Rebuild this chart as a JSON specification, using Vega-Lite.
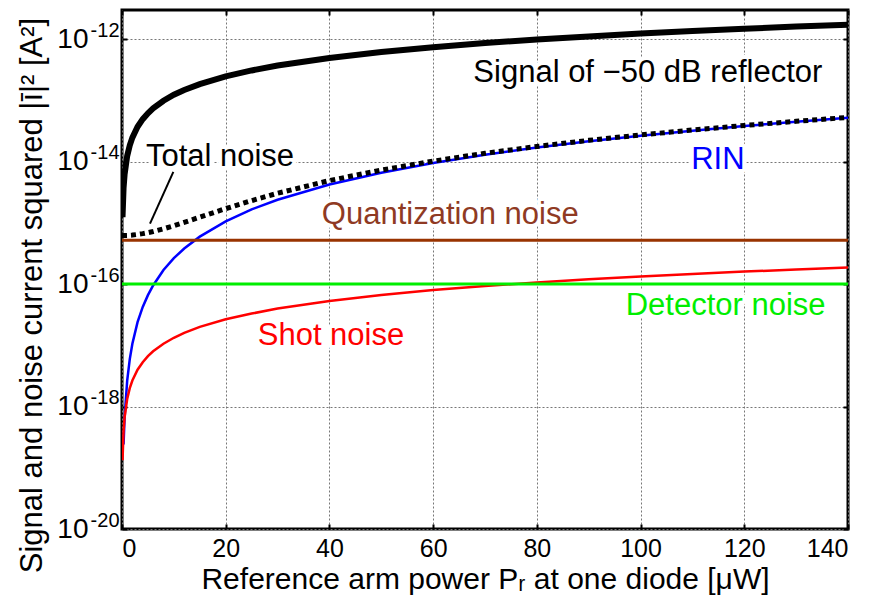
{
  "$schema": "https://vega.github.io/schema/vega-lite/v6.json",
  "width": 726,
  "height": 519,
  "autosize": {"type": "none"},
  "padding": {"left": 122, "top": 10, "right": 27, "bottom": 81},
  "background": "white",
  "config": {
    "font": "Liberation Sans",
    "view": {"stroke": "black", "strokeWidth": 3},
    "axis": {
      "domain": false,
      "tickColor": "black",
      "tickWidth": 2,
      "tickSize": -5,
      "gridColor": "#777777",
      "gridDash": [2, 2],
      "gridWidth": 1,
      "labelColor": "black",
      "titleColor": "black",
      "titleFontWeight": "normal",
      "labelFont": "Liberation Sans",
      "titleFont": "Liberation Sans"
    }
  },
  "datasets": {
    "curves": [
      {"P": 0, "signal": null, "rin": null, "shot": null, "quant": 5.2e-16, "det": 1e-16, "total": 6.2e-16},
      {"P": 0.1, "signal": 1.24e-15, "rin": null, "shot": 1.33e-19, "quant": 5.2e-16, "det": 1e-16, "total": 6.2e-16},
      {"P": 0.3, "signal": 3.7e-15, "rin": 2.4e-19, "shot": 4.0e-19, "quant": 5.2e-16, "det": 1e-16, "total": 6.2e-16},
      {"P": 0.5, "signal": 6.18e-15, "rin": 6.6e-19, "shot": 6.65e-19, "quant": 5.2e-16, "det": 1e-16, "total": 6.21e-16},
      {"P": 1, "signal": 1.24e-14, "rin": 2.65e-18, "shot": 1.33e-18, "quant": 5.2e-16, "det": 1e-16, "total": 6.23e-16},
      {"P": 1.5, "signal": 1.85e-14, "rin": 5.96e-18, "shot": 2.0e-18, "quant": 5.2e-16, "det": 1e-16, "total": 6.28e-16},
      {"P": 2, "signal": 2.47e-14, "rin": 1.06e-17, "shot": 2.66e-18, "quant": 5.2e-16, "det": 1e-16, "total": 6.33e-16},
      {"P": 3, "signal": 3.71e-14, "rin": 2.39e-17, "shot": 4.0e-18, "quant": 5.2e-16, "det": 1e-16, "total": 6.48e-16},
      {"P": 4, "signal": 4.94e-14, "rin": 4.24e-17, "shot": 5.3e-18, "quant": 5.2e-16, "det": 1e-16, "total": 6.68e-16},
      {"P": 5, "signal": 6.18e-14, "rin": 6.6e-17, "shot": 6.65e-18, "quant": 5.2e-16, "det": 1e-16, "total": 6.93e-16},
      {"P": 6, "signal": 7.42e-14, "rin": 9.5e-17, "shot": 8.0e-18, "quant": 5.2e-16, "det": 1e-16, "total": 7.23e-16},
      {"P": 8, "signal": 9.89e-14, "rin": 1.7e-16, "shot": 1.06e-17, "quant": 5.2e-16, "det": 1e-16, "total": 8.0e-16},
      {"P": 10, "signal": 1.24e-13, "rin": 2.65e-16, "shot": 1.33e-17, "quant": 5.2e-16, "det": 1e-16, "total": 8.98e-16},
      {"P": 12, "signal": 1.48e-13, "rin": 3.82e-16, "shot": 1.6e-17, "quant": 5.2e-16, "det": 1e-16, "total": 1.02e-15},
      {"P": 15, "signal": 1.85e-13, "rin": 5.96e-16, "shot": 2.0e-17, "quant": 5.2e-16, "det": 1e-16, "total": 1.24e-15},
      {"P": 20, "signal": 2.47e-13, "rin": 1.06e-15, "shot": 2.66e-17, "quant": 5.2e-16, "det": 1e-16, "total": 1.71e-15},
      {"P": 25, "signal": 3.09e-13, "rin": 1.66e-15, "shot": 3.3e-17, "quant": 5.2e-16, "det": 1e-16, "total": 2.31e-15},
      {"P": 30, "signal": 3.71e-13, "rin": 2.39e-15, "shot": 4.0e-17, "quant": 5.2e-16, "det": 1e-16, "total": 3.05e-15},
      {"P": 40, "signal": 4.94e-13, "rin": 4.24e-15, "shot": 5.3e-17, "quant": 5.2e-16, "det": 1e-16, "total": 4.91e-15},
      {"P": 50, "signal": 6.18e-13, "rin": 6.6e-15, "shot": 6.65e-17, "quant": 5.2e-16, "det": 1e-16, "total": 7.29e-15},
      {"P": 60, "signal": 7.42e-13, "rin": 9.5e-15, "shot": 8.0e-17, "quant": 5.2e-16, "det": 1e-16, "total": 1.02e-14},
      {"P": 70, "signal": 8.65e-13, "rin": 1.3e-14, "shot": 9.3e-17, "quant": 5.2e-16, "det": 1e-16, "total": 1.37e-14},
      {"P": 80, "signal": 9.89e-13, "rin": 1.7e-14, "shot": 1.06e-16, "quant": 5.2e-16, "det": 1e-16, "total": 1.77e-14},
      {"P": 90, "signal": 1.11e-12, "rin": 2.15e-14, "shot": 1.2e-16, "quant": 5.2e-16, "det": 1e-16, "total": 2.23e-14},
      {"P": 100, "signal": 1.24e-12, "rin": 2.65e-14, "shot": 1.33e-16, "quant": 5.2e-16, "det": 1e-16, "total": 2.73e-14},
      {"P": 110, "signal": 1.36e-12, "rin": 3.21e-14, "shot": 1.46e-16, "quant": 5.2e-16, "det": 1e-16, "total": 3.29e-14},
      {"P": 120, "signal": 1.48e-12, "rin": 3.82e-14, "shot": 1.6e-16, "quant": 5.2e-16, "det": 1e-16, "total": 3.9e-14},
      {"P": 130, "signal": 1.61e-12, "rin": 4.48e-14, "shot": 1.73e-16, "quant": 5.2e-16, "det": 1e-16, "total": 4.56e-14},
      {"P": 140, "signal": 1.73e-12, "rin": 5.2e-14, "shot": 1.86e-16, "quant": 5.2e-16, "det": 1e-16, "total": 5.28e-14}
    ],
    "labels": [
      {"label": "Signal of −50 dB reflector", "P": 101.4, "v": 2.84e-13},
      {"label": "Total noise", "P": 18.9, "v": 1.2e-14},
      {"label": "RIN", "P": 114.9, "v": 1.07e-14},
      {"label": "Quantization noise", "P": 63.3, "v": 1.36e-15},
      {"label": "Detector noise", "P": 116.4, "v": 4.4e-17},
      {"label": "Shot noise", "P": 40.3, "v": 1.43e-17}
    ],
    "leader": [
      {"P": 9.9, "v": 6.8e-15, "P2": 5.4, "v2": 9.7e-16}
    ]
  },
  "resolve": {"axis": {"x": "independent", "y": "independent"}},
  "layer": [
    {
      "data": {"name": "curves"},
      "mark": {"type": "line", "color": "black", "strokeWidth": 6, "clip": true},
      "encoding": {
        "x": {"field": "P", "type": "quantitative", "scale": {"domain": [0, 140], "nice": false, "zero": false},
          "axis": {"orient": "bottom", "values": [0, 20, 40, 60, 80, 100, 120, 140], "labelFontSize": 25, "labelPadding": 12, "grid": true,
            "title": "Reference arm power Pᵣ at one diode [μW]", "titleFontSize": 30, "titlePadding": 3}},
        "y": {"field": "signal", "type": "quantitative", "scale": {"type": "log", "domain": [1e-20, 3e-12], "nice": false},
          "axis": {"orient": "left", "values": [1e-20, 1e-18, 1e-16, 1e-14, 1e-12], "labelFontSize": 28, "labelPadding": 39, "grid": true,
            "labelExpr": "'10'",
            "title": "Signal and noise current squared |ī|² [A²]", "titleFontSize": 31, "titlePadding": 8, "titleY": 285}}
      }
    },
    {
      "data": {"name": "curves"},
      "mark": {"type": "line", "color": "#0000ff", "strokeWidth": 2.5, "clip": true},
      "encoding": {
        "x": {"field": "P", "type": "quantitative", "axis": null},
        "y": {"field": "rin", "type": "quantitative",
          "axis": {"orient": "left", "values": [1e-20, 1e-18, 1e-16, 1e-14, 1e-12], "labelFontSize": 20, "labelPadding": 8, "labelOffset": -9, "grid": false, "ticks": true, "tickOpacity": 0, "title": null,
            "labelExpr": "datum.value < 1e-19 ? '-20' : datum.value < 1e-17 ? '-18' : datum.value < 1e-15 ? '-16' : datum.value < 1e-13 ? '-14' : '-12'"}}
      }
    },
    {
      "data": {"name": "curves"},
      "mark": {"type": "line", "color": "#ff0000", "strokeWidth": 2.5, "clip": true},
      "encoding": {
        "x": {"field": "P", "type": "quantitative", "axis": null},
        "y": {"field": "shot", "type": "quantitative", "axis": null}
      }
    },
    {
      "data": {"name": "curves"},
      "mark": {"type": "line", "color": "#993300", "strokeWidth": 3, "clip": true},
      "encoding": {
        "x": {"field": "P", "type": "quantitative",
          "axis": {"orient": "top", "values": [0, 20, 40, 60, 80, 100, 120, 140], "labels": false, "grid": false, "title": null}},
        "y": {"field": "quant", "type": "quantitative",
          "axis": {"orient": "right", "values": [1e-20, 1e-18, 1e-16, 1e-14, 1e-12], "labels": false, "grid": false, "title": null}}
      }
    },
    {
      "data": {"name": "curves"},
      "mark": {"type": "line", "color": "#00ee00", "strokeWidth": 3, "clip": true},
      "encoding": {
        "x": {"field": "P", "type": "quantitative", "axis": null},
        "y": {"field": "det", "type": "quantitative", "axis": null}
      }
    },
    {
      "data": {"name": "curves"},
      "mark": {"type": "line", "color": "black", "strokeWidth": 5, "strokeDash": [5, 4], "strokeCap": "butt", "clip": true},
      "encoding": {
        "x": {"field": "P", "type": "quantitative", "axis": null},
        "y": {"field": "total", "type": "quantitative", "axis": null}
      }
    },
    {
      "data": {"name": "leader"},
      "mark": {"type": "rule", "color": "black", "strokeWidth": 2},
      "encoding": {
        "x": {"field": "P", "type": "quantitative", "axis": null},
        "y": {"field": "v", "type": "quantitative", "axis": null},
        "x2": {"field": "P2"},
        "y2": {"field": "v2"}
      }
    },
    {
      "data": {"name": "labels"},
      "mark": {"type": "text", "fontSize": 31, "align": "center", "baseline": "middle", "font": "Liberation Sans", "stroke": "white", "strokeWidth": 8, "strokeJoin": "round", "color": "white"},
      "encoding": {
        "x": {"field": "P", "type": "quantitative", "axis": null},
        "y": {"field": "v", "type": "quantitative", "axis": null},
        "text": {"field": "label"}
      }
    },
    {
      "data": {"name": "labels"},
      "mark": {"type": "text", "fontSize": 31, "align": "center", "baseline": "middle", "font": "Liberation Sans"},
      "encoding": {
        "x": {"field": "P", "type": "quantitative", "axis": null},
        "y": {"field": "v", "type": "quantitative", "axis": null},
        "text": {"field": "label"},
        "color": {"field": "label", "type": "nominal", "legend": null,
          "scale": {"domain": ["Signal of −50 dB reflector", "Total noise", "RIN", "Quantization noise", "Detector noise", "Shot noise"],
            "range": ["#000000", "#000000", "#0000ff", "#8f3a23", "#00ee00", "#ff0000"]}}
      }
    }
  ]
}
